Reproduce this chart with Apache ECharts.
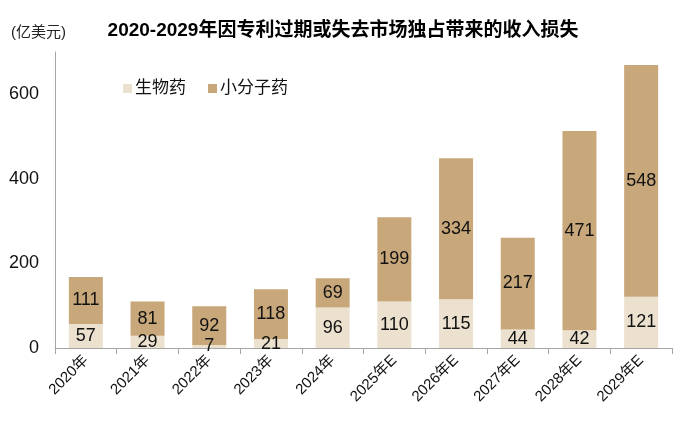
<!DOCTYPE html>
<html>
<head>
<meta charset="utf-8">
<script src="https://cdn.jsdelivr.net/npm/echarts@6/dist/echarts.min.js"></script>
<style>
    html, body { margin: 0; padding: 0; background: #fff; }
    #chart { width: 682px; height: 432px; }
</style>
</head>
<body>
<div id="chart"></div>
<script>
const years = ["2020年", "2021年", "2022年", "2023年", "2024年", "2025年E", "2026年E", "2027年E", "2028年E", "2029年E"];
const biologics = [57, 29, 7, 21, 96, 110, 115, 44, 42, 121];
const smallMolecule = [111, 81, 92, 118, 69, 199, 334, 217, 471, 548];
const yTicks = [0, 200, 400, 600];

const font = '"Liberation Sans", Arial, "Noto Sans CJK SC", sans-serif';
const chart = echarts.init(document.getElementById("chart"));

const option = {
    animation: false,
    textStyle: { fontFamily: font },
    color: ["#ECE1CF", "#C8A77A"],
    title: [
        {
            text: "2020-2029年因专利过期或失去市场独占带来的收入损失",
            left: 338, top: 16, textAlign: "center",
            textStyle: { fontFamily: font, fontSize: 19, fontWeight: "bold", color: "#000" }
        },
        {
            text: "(亿美元)",
            left: 6, top: 20,
            textStyle: { fontFamily: font, fontSize: 15, fontWeight: "normal", color: "#222" }
        }
    ],
    legend: {
        left: 118, top: 75,
        itemWidth: 9, itemHeight: 9, itemGap: 22,
        icon: "rect",
        textStyle: { fontFamily: font, fontSize: 17, color: "#111", padding: [0, 0, 0, -2] },
        data: ["生物药", "小分子药"]
    },
    grid: { left: 55, right: 10, top: 52, bottom: 84 },
    xAxis: {
        type: "category",
        data: years,
        axisLine: { lineStyle: { color: "#A6A6A6" } },
        axisTick: { show: true, length: 6, lineStyle: { color: "#A6A6A6" } },
        axisLabel: { rotate: 45, fontSize: 15, color: "#111", margin: 10, interval: 0 }
    },
    yAxis: {
        type: "value",
        min: 0, max: 700, interval: 200,
        splitLine: { show: false },
        axisLine: { show: true, lineStyle: { color: "#A6A6A6" } },
        axisTick: { show: false },
        axisLabel: {
            fontSize: 18, color: "#111", margin: 16, showMaxLabel: false,
            formatter: v => yTicks.includes(v) ? String(v) : ""
        }
    },
    series: [
        {
            name: "生物药", type: "bar", stack: "total", barWidth: 34,
            data: biologics,
            label: { show: true, position: "inside", fontSize: 18, color: "#111", fontFamily: font }
        },
        {
            name: "小分子药", type: "bar", stack: "total", barWidth: 34,
            data: smallMolecule,
            label: { show: true, position: "inside", fontSize: 18, color: "#111", fontFamily: font }
        }
    ]
};
chart.setOption(option);
</script>
</body>
</html>
